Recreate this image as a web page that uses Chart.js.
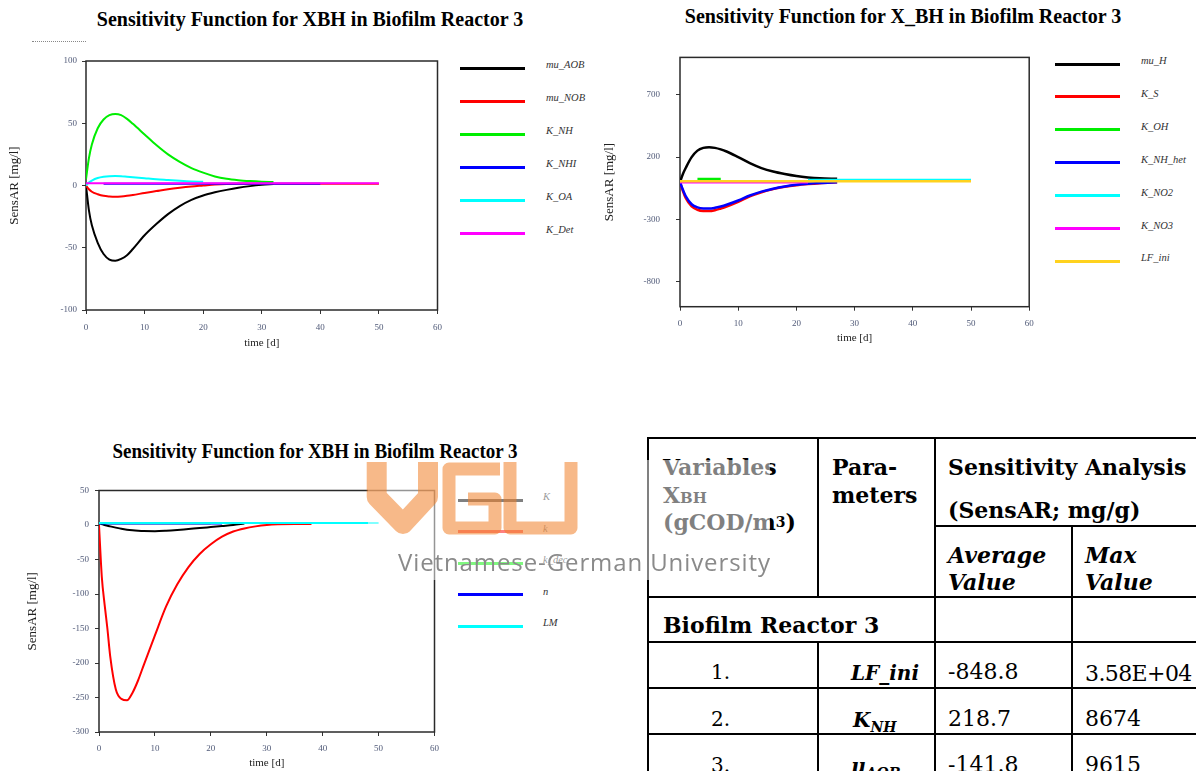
<!DOCTYPE html>
<html>
<head>
<meta charset="utf-8">
<title>Sensitivity Functions - Biofilm Reactor 3</title>
<script src="https://cdn.jsdelivr.net/npm/chart.js"></script>
<style>
  body { margin: 0; width: 1196px; height: 771px; overflow: hidden; background: #fff; position: relative; }
  .title { position: absolute; font: bold 20px 'Liberation Serif', serif; color: #000; white-space: nowrap; transform: translateX(-50%) scaleY(1.08); line-height: 22px; }
  .chartbox { position: absolute; }
  .lg-line { position: absolute; width: 65px; height: 3px; }
  .lg-text { position: absolute; font: italic 10.5px 'Liberation Serif', serif; color: #333; white-space: nowrap; line-height: 12px; }
  .rule { position: absolute; background: #000; }
  .cell { position: absolute; font: 22px 'DejaVu Serif', serif; color: #000; white-space: nowrap; line-height: 22px; }
  .b { font-weight: bold; }
  .bi { font-weight: bold; font-style: italic; }
  .par { font-size: 20px; }
  #veil { position: absolute; left: 368px; top: 460px; width: 402px; height: 120px; background: rgba(255,255,255,0.5); }
  #logo { position: absolute; left: 360px; top: 455px; }
  #uni { position: absolute; left: 398px; top: 547px; font: 24px 'Open Sans', sans-serif; color: #8a8a8a; letter-spacing: 0.9px; white-space: nowrap; line-height: 30px; }
  #dots { position: absolute; left: 32px; top: 41px; width: 54px; border-top: 1px dotted #888; }
</style>
</head>
<body>

<div class="title" style="left:310px; top:7px;">Sensitivity Function for XBH in Biofilm Reactor 3</div>
<div id="dots"></div>
<div class="chartbox" style="left:0; top:40px; width:450px; height:320px;"><canvas id="c1"></canvas></div>
<div id="lg1"></div>

<div class="title" style="left:903px; top:4px;">Sensitivity Function for X_BH in Biofilm Reactor 3</div>
<div class="chartbox" style="left:600px; top:36px; width:441px; height:322px;"><canvas id="c2"></canvas></div>
<div id="lg2"></div>

<div class="title" style="left:315px; top:441px; font-size:19px;">Sensitivity Function for XBH in Biofilm Reactor 3</div>
<div class="chartbox" style="left:0; top:470px; width:446px; height:301px;"><canvas id="c3"></canvas></div>
<div id="lg3"></div>

<!-- results table -->
<div id="table">
  <div class="rule" style="left:647px; top:437px; width:560px; height:2px;"></div>
  <div class="rule" style="left:934px; top:525px; width:270px; height:2px;"></div>
  <div class="rule" style="left:647px; top:596px; width:560px; height:2px;"></div>
  <div class="rule" style="left:647px; top:641px; width:560px; height:2px;"></div>
  <div class="rule" style="left:647px; top:687px; width:560px; height:2px;"></div>
  <div class="rule" style="left:647px; top:733px; width:560px; height:2px;"></div>
  <div class="rule" style="left:647px; top:437px; width:2px; height:340px;"></div>
  <div class="rule" style="left:817px; top:437px; width:2px; height:160px;"></div>
  <div class="rule" style="left:817px; top:641px; width:2px; height:140px;"></div>
  <div class="rule" style="left:934px; top:437px; width:2px; height:340px;"></div>
  <div class="rule" style="left:1071px; top:525px; width:2px; height:250px;"></div>

  <div class="cell b" style="left:663px; top:456px;">Variables</div>
  <div class="cell b" style="left:663px; top:484px;">X<span style="font-size:15px;">BH</span></div>
  <div class="cell b" style="left:663px; top:511px;">(gCOD/m<span style="font-size:14px; vertical-align:3px;">3</span>)</div>
  <div class="cell b" style="left:832px; top:456px;">Para-</div>
  <div class="cell b" style="left:832px; top:484px;">meters</div>
  <div class="cell b" style="left:948px; top:456px;">Sensitivity Analysis</div>
  <div class="cell b" style="left:948px; top:499px;">(SensAR; mg/g)</div>
  <div class="cell bi" style="left:948px; top:544px;">Average</div>
  <div class="cell bi" style="left:948px; top:571px;">Value</div>
  <div class="cell bi" style="left:1085px; top:544px;">Max</div>
  <div class="cell bi" style="left:1085px; top:571px;">Value</div>
  <div class="cell b" style="left:663px; top:614px;">Biofilm Reactor 3</div>

  <div class="cell" style="left:711px; top:661px; font-size:20px;">1.</div>
  <div class="cell bi par" style="left:851px; top:662px;">LF_ini</div>
  <div class="cell" style="left:948px; top:661px;">-848.8</div>
  <div class="cell" style="left:1085px; top:663px; letter-spacing:-0.6px;">3.58E+04</div>

  <div class="cell" style="left:711px; top:708px; font-size:20px;">2.</div>
  <div class="cell bi par" style="left:853px; top:709px;">K<span style="font-size:14px; vertical-align:-5px;">NH</span></div>
  <div class="cell" style="left:948px; top:708px;">218.7</div>
  <div class="cell" style="left:1085px; top:708px;">8674</div>

  <div class="cell" style="left:711px; top:754px; font-size:20px;">3.</div>
  <div class="cell bi par" style="left:851px; top:755px;">μ<span style="font-size:14px; vertical-align:-5px;">AOB</span></div>
  <div class="cell" style="left:948px; top:754px;">-141.8</div>
  <div class="cell" style="left:1085px; top:754px;">9615</div>
</div>

<!-- watermark -->
<div id="veil"></div>
<svg id="logo" width="240" height="90" viewBox="0 0 240 90">
  <g fill="none" stroke="rgba(240,128,40,0.55)" stroke-linejoin="round">
    <polyline points="16.7,7 16.7,42 43,69 68,42 68,7" stroke-width="20"/>
    <polyline points="140,14 89,14 89,73 135,73 135,44 108,44" stroke-width="13"/>
    <polyline points="150,7 150,73 211,73 211,7" stroke-width="13"/>
  </g>
</svg>
<div id="uni">Vietnamese-German University</div>

<script>
// ---- Reactor 3, XBH sensitivity (nitrifier parameters) ----
const t1 = [0, 0.5, 1, 2, 3, 4, 5, 6, 7, 8, 10, 12, 14, 16, 18, 20, 22, 24, 26, 28, 30, 32, 35, 40, 45, 50];
const names1 = ['mu_AOB', 'mu_NOB', 'K_NH', 'K_NHI', 'K_OA', 'K_Det'];
const colors1 = ['#000000', '#ff0000', '#00ee00', '#0000ff', '#00ffff', '#ff00ff'];
const muAOB = [0, -20, -32, -46, -55, -59.5, -60.5, -59, -56, -51, -40, -31, -23, -16.5, -11.5, -8, -5.5, -3.5, -1.8, -0.5, 0.5, 1.2, null, null, null, null];
const muNOB = [0, -3, -5, -7, -8.3, -8.8, -9, -8.8, -8.3, -7.6, -6, -4.5, -3, -1.8, -0.8, 0, 0.8, 1.3, 1.5, 1.5, 1.5, 1.5, 1.5, 1.5, 1.5, 1.5];
const kNH = [5, 22, 33, 46, 53, 56.5, 57.5, 56.5, 53.5, 49.5, 41, 32.5, 25, 19, 14, 10.3, 7.3, 5.4, 4.3, 3.6, 3.1, 2.8, null, null, null, null];
const kNHI = [null, null, null, null, 1.5, 1.5, 1.5, 1.5, 1.5, 1.5, 1.5, 1.5, 1.5, 1.5, 1.5, 1.5, 1.5, 1.5, 1.5, 1.5, 1.5, 1.5, 1.5, 1.5, null, null];
const kOA = [0, 2.5, 4, 6, 7, 7.5, 7.6, 7.4, 7, 6.6, 5.8, 5, 4.4, 3.8, 3.3, 3, null, null, null, null, null, null, null, null, null, null];
const kDet = [1.8, 1.8, 1.8, 1.8, 1.8, 1.8, 1.8, 1.8, 1.8, 1.8, 1.8, 1.8, 1.8, 1.8, 1.8, 1.8, 1.8, 1.8, 1.8, 1.8, 1.8, 1.8, 1.8, 1.8, 1.8, 1.8];
const yTicks1 = [-100, -50, 0, 50, 100];

// ---- Reactor 3, X_BH sensitivity (heterotroph parameters) ----
const t2 = [0, 0.5, 1, 2, 3, 4, 5, 6, 7, 8, 10, 12, 14, 16, 18, 20, 22, 24, 27, 30, 35, 40, 45, 50];
const names2 = ['mu_H', 'K_S', 'K_OH', 'K_NH_het', 'K_NO2', 'K_NO3', 'LF_ini'];
const colors2 = ['#000000', '#ff0000', '#00ee00', '#0000ff', '#00ffff', '#ff00ff', '#ffd21e'];
const muH = [0, 65, 115, 200, 252, 274, 280, 274, 262, 245, 200, 152, 112, 84, 64, 48, 37, 30, 26, null, null, null, null, null];
const kS = [0, -72, -130, -195, -222, -232, -233, -226, -212, -196, -158, -115, -82, -57, -38, -25, -16, -9, -2, null, null, null, null, null];
const kOH = [null, null, null, null, 24, 24, 24, 24, 24, null, null, null, null, null, null, null, null, null, null, null, null, null, null, null];
const kNHhet = [0, -62, -115, -178, -203, -212, -213, -207, -196, -182, -148, -108, -77, -53, -35, -22, -13, -7, -1, null, null, null, null, null];
const kNO2 = [null, null, null, null, null, null, null, null, null, null, null, null, null, null, null, null, 16, 16, 16, 16, 16, 16, 16, 16];
const kNO3 = [-2, -2, -2, -2, -2, -2, -2, -2, -2, -2, -2, -2, -2, -2, -2, -2, -2, null, null, null, null, null, null, null];
const lfIni = [6, 6, 6, 6, 6, 6, 6, 6, 6, 6, 6, 6, 6, 6, 6, 6, 6, 6, 6, 6, 6, 6, 6, 6];
const yTicks2 = [-800, -300, 200, 700];

// ---- Reactor 3, XBH sensitivity (decay / growth-law parameters) ----
const t3 = [0, 0.5, 1, 1.5, 2, 3, 4, 5, 6, 7, 8, 10, 12, 14, 16, 18, 20, 22, 24, 26, 28, 30, 32, 35, 38, 40, 45, 50];
const names3 = ['K', 'k', 'k_dec', 'n', 'LM'];
const colors3 = ['#000000', '#ff0000', '#00ee00', '#0000ff', '#00ffff'];
const bigK = [3, 1.5, 0, -1, -2, -3.8, -5.5, -6.8, -7.7, -8.3, -8.7, -8.9, -8.3, -7.2, -5.8, -4.5, -3, -1.5, 0, 2, null, null, null, null, null, null, null, null];
const smallK = [0, -75, -115, -150, -190, -238, -252, -254, -243, -225, -203, -160, -118, -86, -61, -42, -28, -17, -9.5, -5, -2, 0, 1, 1.5, 1.5, null, null, null];
const kDec = [2.5, 2.5, 2.5, 2.5, 2.5, 2.5, 2.5, 2.5, 2.5, 2.5, 2.5, 2.5, 2.5, 2.5, 2.5, 2.5, 2.5, null, null, null, null, null, null, null, null, null, null, null];
const nExp = [2, 2, 2, 2, 2, 2, 2, 2, 2, 2, 2, 2, 2, 2, 2, 2, 2, 2, null, null, null, null, null, null, null, null, null, null];
const lm = [3, 3, 3, 3, 3, 3, 3, 3, 3, 3, 3, 3, 3, 3, 3, 3, 3, 3, 3, 3, 3, 3, 3, 3, 3, 3, 3, 3];
const yTicks3 = [-300, -250, -200, -150, -100, -50, 0, 50];

const xTicks = [0, 10, 20, 30, 40, 50, 60];

// plot box around the chart area
const frame = {
  id: 'frame',
  beforeDatasetsDraw(chart) {
    const { ctx, chartArea: a } = chart;
    ctx.save();
    ctx.strokeStyle = '#2a2a2a';
    ctx.lineWidth = 1.5;
    ctx.strokeRect(a.left, a.top, a.width, a.height);
    ctx.restore();
  }
};

const tickFont = { family: 'Liberation Serif', size: 9 };
const tickColor = '#505a78';

function makeChart(id, c) {
  const datasets = c.names.map((name, i) => ({
    label: name,
    data: c.series[i].map((v, j) => ({ x: c.t[j], y: v })).filter(p => p.y !== null),
    borderColor: c.colors[i],
    borderWidth: c.lw,
    pointRadius: 0,
    fill: false,
    cubicInterpolationMode: 'monotone',
    order: c.names.length - i   // later parameters drawn on top
  }));
  return new Chart(document.getElementById(id), {
    type: 'line',
    data: { datasets },
    plugins: [frame],
    options: {
      responsive: true,
      maintainAspectRatio: false,
      animation: false,
      devicePixelRatio: 1,
      layout: { padding: { top: c.padTop, right: c.padRight, left: 0, bottom: 0 } },
      plugins: { legend: { display: false }, tooltip: { enabled: false } },
      scales: {
        x: {
          type: 'linear', min: 0, max: 60,
          afterBuildTicks: s => { s.ticks = xTicks.map(v => ({ value: v })); },
          afterFit: s => { s.height = c.xH; },
          grid: { drawOnChartArea: false, tickLength: 4, color: '#333' },
          border: { display: false },
          ticks: { font: tickFont, color: tickColor, padding: c.xPad, maxRotation: 0 },
          title: { display: true, text: 'time [d]', color: '#222',
                   font: { family: 'Liberation Serif', size: 11 }, padding: { top: 0, bottom: c.xTitlePad } }
        },
        y: {
          type: 'linear', min: c.yMin, max: c.yMax,
          afterBuildTicks: s => { s.ticks = c.yTicks.map(v => ({ value: v })); },
          afterFit: s => { s.width = c.yW; },
          grid: { drawOnChartArea: false, tickLength: 4, color: '#333' },
          border: { display: false },
          ticks: { font: tickFont, color: tickColor, padding: c.yPad },
          title: { display: true, text: 'SensAR [mg/l]', color: '#222',
                   font: { family: 'Liberation Serif', size: 13 }, padding: { top: c.yTitlePad, bottom: 0 } }
        }
      }
    }
  });
}

function makeLegend(id, names, colors, lineX, textX, y0, step) {
  const box = document.getElementById(id);
  names.forEach((name, i) => {
    const y = y0 + i * step;
    const line = document.createElement('div');
    line.className = 'lg-line';
    line.style.left = lineX + 'px';
    line.style.top = (y - 1.5) + 'px';
    line.style.background = colors[i];
    const txt = document.createElement('div');
    txt.className = 'lg-text';
    txt.style.left = textX + 'px';
    txt.style.top = (y - 9) + 'px';
    txt.textContent = name;
    box.appendChild(line);
    box.appendChild(txt);
  });
}

makeChart('c1', {
  t: t1, names: names1, colors: colors1, series: [muAOB, muNOB, kNH, kNHI, kOA, kDet],
  lw: 2, yMin: -100, yMax: 100, yTicks: yTicks1,
  padTop: 21, padRight: 10, yW: 86, xH: 50, xPad: 8, yPad: 5, xTitlePad: 10.4, yTitlePad: 7.2
});
makeChart('c2', {
  t: t2, names: names2, colors: colors2, series: [muH, kS, kOH, kNHhet, kNO2, kNO3, lfIni],
  lw: 2.5, yMin: -1000, yMax: 1000, yTicks: yTicks2,
  padTop: 20.7, padRight: 10, yW: 80, xH: 51.3, xPad: 7.3, yPad: 16, xTitlePad: 13.4, yTitlePad: 2.2
});
makeChart('c3', {
  t: t3, names: names3, colors: colors3, series: [bigK, smallK, kDec, nExp, lm],
  lw: 2, yMin: -300, yMax: 50, yTicks: yTicks3,
  padTop: 20.5, padRight: 10, yW: 99, xH: 39, xPad: 7, yPad: 6, xTitlePad: 1.4, yTitlePad: 25.2
});

makeLegend('lg1', names1, colors1, 460, 546, 68.3, 33);
makeLegend('lg2', names2, colors2, 1055, 1141, 64, 32.9);
makeLegend('lg3', names3, colors3, 458, 543, 500, 31.5);
</script>
</body>
</html>
